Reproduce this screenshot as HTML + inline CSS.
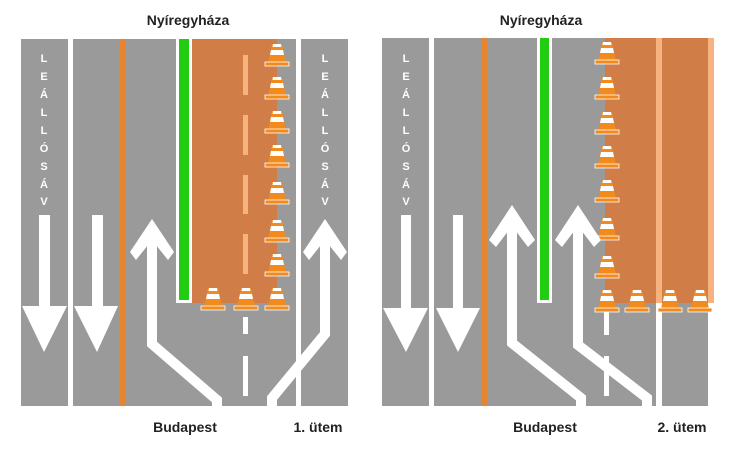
<!DOCTYPE html>
<html><head><meta charset="utf-8"><style>
body{margin:0;background:#fff}
svg{display:block}
text{font-family:"Liberation Sans",sans-serif}
</style></head><body>
<svg width="740" height="468" viewBox="0 0 740 468" xmlns="http://www.w3.org/2000/svg">
<defs>
<g id="cone">
<polygon points="-5,-16 5,-16 9,3 -9,3" fill="#f28a1c"/>
<polygon points="-6,-10 6,-10 7,-5 -7,-5" fill="#fff"/>
<polygon points="-4,-16 4,-16 4.5,-13 -4.5,-13" fill="#fff"/>
<rect x="-12" y="2" width="24" height="4" fill="#f28a1c" stroke="#fff" stroke-width="0.8"/>
</g>
</defs>
<!-- LEFT PANEL -->
<rect x="21" y="39" width="47" height="367" fill="#9a9a9a"/>
<rect x="73" y="39" width="223" height="367" fill="#9a9a9a"/>
<rect x="301" y="39" width="47" height="367" fill="#9a9a9a"/>
<rect x="120" y="39" width="6" height="367" fill="#e8842e"/>
<rect x="176" y="39" width="16" height="264" fill="#fff"/>
<rect x="179" y="39" width="10" height="261" fill="#22cc11"/>
<rect x="192" y="39" width="85" height="264" fill="#d07d48"/>
<g fill="#f6b27f">
<rect x="243" y="55" width="5" height="40"/><rect x="243" y="115" width="5" height="40"/>
<rect x="243" y="175" width="5" height="39"/><rect x="243" y="234" width="5" height="40"/>
</g>
<g fill="#fff"><rect x="243" y="317" width="5" height="17"/><rect x="243" y="356" width="5" height="40"/></g>
<g>
<use href="#cone" x="277" y="60"/><use href="#cone" x="277" y="93"/><use href="#cone" x="277" y="127"/>
<use href="#cone" x="277" y="161"/><use href="#cone" x="277" y="198"/><use href="#cone" x="277" y="236"/>
<use href="#cone" x="277" y="270"/><use href="#cone" x="213" y="304"/><use href="#cone" x="246" y="304"/>
<use href="#cone" x="277" y="304"/>
</g>
<!-- down arrows -->
<g fill="#fff">
<rect x="39" y="215" width="11" height="95"/><polygon points="22,306 67,306 44,352"/>
<rect x="92" y="215" width="11" height="95"/><polygon points="74,306 118,306 97,352"/>
</g>
<!-- up arrows -->
<g fill="none" stroke="#fff" stroke-width="10" stroke-linejoin="miter">
<polyline points="152,250 152,344 217,400 217,406"/>
<polyline points="325,250 325,334 272,398 272,406"/>
</g>
<g fill="#fff">
<polygon points="152,219 174,252 168,260 152,240 136,260 130,252"/>
<rect x="147" y="236" width="10" height="20"/>
<polygon points="325,219 347,252 341,260 325,240 309,260 303,252"/>
<rect x="320" y="236" width="10" height="20"/>
</g>
<g fill="#fff" font-size="11" font-weight="bold" text-anchor="middle">
<text x="44" y="62">L</text><text x="44" y="80">E</text><text x="44" y="98">Á</text><text x="44" y="116">L</text><text x="44" y="134">L</text><text x="44" y="152">Ó</text><text x="44" y="170">S</text><text x="44" y="188">Á</text><text x="44" y="205">V</text>
<text x="325" y="62">L</text><text x="325" y="80">E</text><text x="325" y="98">Á</text><text x="325" y="116">L</text><text x="325" y="134">L</text><text x="325" y="152">Ó</text><text x="325" y="170">S</text><text x="325" y="188">Á</text><text x="325" y="205">V</text>
</g>
<g font-size="14" font-weight="bold" fill="#222">
<text x="188" y="25" text-anchor="middle">Nyíregyháza</text>
<text x="185" y="432" text-anchor="middle">Budapest</text>
<text x="318" y="432" text-anchor="middle">1. ütem</text>
<text x="541" y="25" text-anchor="middle">Nyíregyháza</text>
<text x="545" y="432" text-anchor="middle">Budapest</text>
<text x="682" y="432" text-anchor="middle">2. ütem</text>
</g>
<!-- RIGHT PANEL -->
<rect x="382" y="38" width="47" height="368" fill="#9a9a9a"/>
<rect x="434" y="38" width="222" height="368" fill="#9a9a9a"/>
<rect x="662" y="38" width="46" height="368" fill="#9a9a9a"/>
<rect x="482" y="38" width="5" height="368" fill="#e8842e"/>
<rect x="537" y="38" width="15" height="265" fill="#fff"/>
<rect x="540" y="38" width="9" height="262" fill="#22cc11"/>
<rect x="605" y="38" width="103" height="265" fill="#d07d48"/>
<rect x="656" y="38" width="6" height="265" fill="#f6b27f"/>
<rect x="708" y="38" width="6" height="265" fill="#f6b27f"/>
<rect x="656" y="303" width="6" height="103" fill="#fff"/>
<g fill="#fff"><rect x="604" y="310" width="5" height="25"/><rect x="604" y="356" width="5" height="40"/></g>
<g>
<use href="#cone" x="607" y="58"/><use href="#cone" x="607" y="93"/><use href="#cone" x="607" y="128"/>
<use href="#cone" x="607" y="162"/><use href="#cone" x="607" y="196"/><use href="#cone" x="607" y="234"/>
<use href="#cone" x="607" y="272"/><use href="#cone" x="607" y="306"/><use href="#cone" x="637" y="306"/>
<use href="#cone" x="670" y="306"/><use href="#cone" x="700" y="306"/>
</g>
<g fill="#fff">
<rect x="401" y="215" width="10" height="95"/><polygon points="383,308 428,308 406,352"/>
<rect x="453" y="215" width="10" height="95"/><polygon points="436,308 480,308 458,352"/>
</g>
<g fill="none" stroke="#fff" stroke-width="10">
<polyline points="512,235 512,343 581,398 581,406"/>
<polyline points="578,235 578,345 647,398 647,406"/>
</g>
<g fill="#fff">
<polygon points="512,205 535,240 528,247 512,226 496,247 489,240"/>
<rect x="507" y="222" width="10" height="20"/>
<polygon points="578,205 601,240 594,247 578,226 562,247 555,240"/>
<rect x="573" y="222" width="10" height="20"/>
</g>
<g fill="#fff" font-size="11" font-weight="bold" text-anchor="middle">
<text x="406" y="62">L</text><text x="406" y="80">E</text><text x="406" y="98">Á</text><text x="406" y="116">L</text><text x="406" y="134">L</text><text x="406" y="152">Ó</text><text x="406" y="170">S</text><text x="406" y="188">Á</text><text x="406" y="205">V</text>
</g>
</svg>
</body></html>
